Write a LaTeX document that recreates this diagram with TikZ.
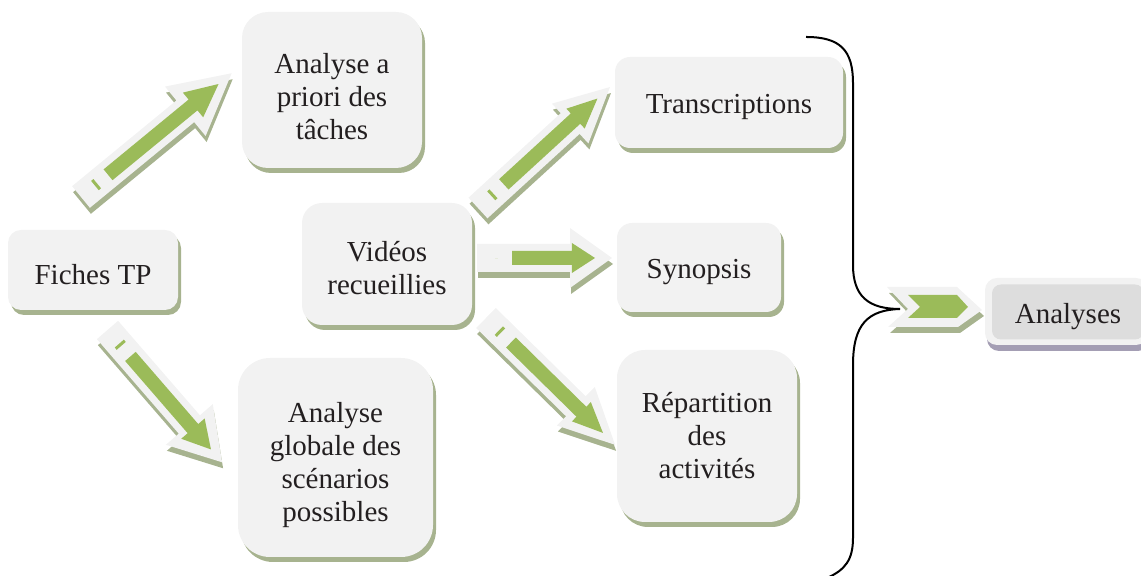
\documentclass[tikz,border=0pt]{standalone}
\usepackage{fontspec}
\setmainfont{Liberation Serif}
\usetikzlibrary{shadows}

\definecolor{fond}{HTML}{F2F2F2}
\definecolor{ombre}{HTML}{A7B38F}
\definecolor{vert}{HTML}{9BBB59}
\definecolor{gris}{HTML}{DDDDDD}
\definecolor{ombreviolet}{HTML}{A49EB4}
\definecolor{texte}{HTML}{231F20}

\tikzset{
	textboite/.style={ rectangle, fill=fond, align=center, text=texte, inner sep=2pt,
		font=\fontsize{14.5}{16.5}\selectfont },
	boite/.style={ textboite,
		drop shadow={shadow xshift=1.5pt, shadow yshift=-2.5pt, fill=ombre, opacity=1} },
	descend/.style 2 args={ text height=\dimexpr 9.9pt+#2+16.5pt*#1\relax },
}

\begin{document}
\begin{tikzpicture}[ x=0.5pt, y=0.5pt ]

	\useasboundingbox (0,0) rectangle (1141,576);

	\def\demilarg{14}

	\node[ boite, descend={0}{5pt}, minimum width=85pt, minimum height=40pt, rounded corners=6.5pt ] (fiches) at (93, 306) {Fiches TP};
	\node[ boite, descend={2}{6.5pt}, minimum width=90pt, minimum height=78pt, rounded corners=13pt ] (apriori) at (332, 486) {Analyse a\\priori des\\tâches};
	\node[ boite, descend={1}{4pt}, minimum width=85pt, minimum height=61pt, rounded corners=10pt ] (videos) at (387, 312) {Vidéos\\recueillies};
	\node[ boite, descend={3}{8pt}, minimum width=97.5pt, minimum height=99.5pt, rounded corners=16pt ] (globale) at (335.5, 118.5) {Analyse\\globale des\\scénarios\\possibles};
	\node[ boite, descend={0}{4pt}, minimum width=114pt, minimum height=45.5pt, rounded corners=7.5pt ] (transcriptions) at (729, 473.5) {Transcriptions};
	\node[ boite, descend={0}{4pt}, minimum width=82pt, minimum height=44.5pt, rounded corners=7.5pt ] (synopsis) at (699, 308.5) {Synopsis};
	\node[ boite, descend={2}{0pt}, minimum width=90pt, minimum height=86pt, rounded corners=14pt ] (repartition) at (707, 140) {Répartition\\des\\activités};

	\foreach \x/\y/\a/\l/\hl/\hw/\trait in {81/379/39.4/195/60/32/6, 107.5/246/-49.1/175/50/31/6, 478/368/42.5/179/54/27/6, 477/318/0/135/42/30/0, 486/258/-44.5/181/55/27/6} {
		\fill[ ombre, shift={(\x+1,\y-6)}, rotate=\a ] (0,-\demilarg) -- (\l-\hl,-\demilarg) -- (\l-\hl,-\hw) -- (\l,0) -- (\l-\hl,\hw) -- (\l-\hl,\demilarg) -- (0,\demilarg) -- cycle;
		\fill[ fond, shift={(\x,\y)}, rotate=\a ] (0,-\demilarg) -- (\l-\hl,-\demilarg) -- (\l-\hl,-\hw) -- (\l,0) -- (\l-\hl,\hw) -- (\l-\hl,\demilarg) -- (0,\demilarg) -- cycle;
		\fill[ vert, shift={(\x,\y)}, rotate=\a ] (35,-7) -- (\l-17-0.55*\hl,-7) -- (\l-17-0.55*\hl,-0.5*\hw) -- (\l-17,0) -- (\l-17-0.55*\hl,0.5*\hw) -- (\l-17-0.55*\hl,7) -- (35,7) -- cycle;
		\fill[ vert, shift={(\x,\y)}, rotate=\a ] (18,-\trait) rectangle (21,\trait);
	}

	\fill[ ombre ] (889,283) -- (959,283) -- (984,260) -- (960,243) -- (890,243) -- (910,261) -- cycle;
	\fill[ fond ] (887,289) -- (957,289) -- (982,266) -- (958,249) -- (888,249) -- (908,267) -- cycle;
	\fill[ vert ] (908,281) -- (957,281) -- (968,269) -- (957,258) -- (908,258) -- (920,269) -- cycle;

	\draw[ line width=1pt ] (806,539) .. controls (840,539) and (853,526) .. (853,493) -- (853,311)
		.. controls (853,280) and (868,267) .. (900,267)
		.. controls (868,266) and (853,252) .. (853,211) -- (853,38)
		.. controls (853,16) and (845,6) .. (827,-2);

	\node[ rectangle, fill=fond, minimum width=81.5pt, minimum height=33.5pt, rounded corners=6pt,
		drop shadow={shadow xshift=1pt, shadow yshift=-3pt, fill=ombreviolet, opacity=1} ] (cadre) at (1066.5, 264.5) {};
	\node[ textboite, descend={0}{5pt}, fill=gris, minimum width=76pt, minimum height=27.5pt, rounded corners=4.5pt ] (analyses) at (1068, 264) {Analyses};

\end{tikzpicture}
\end{document}
